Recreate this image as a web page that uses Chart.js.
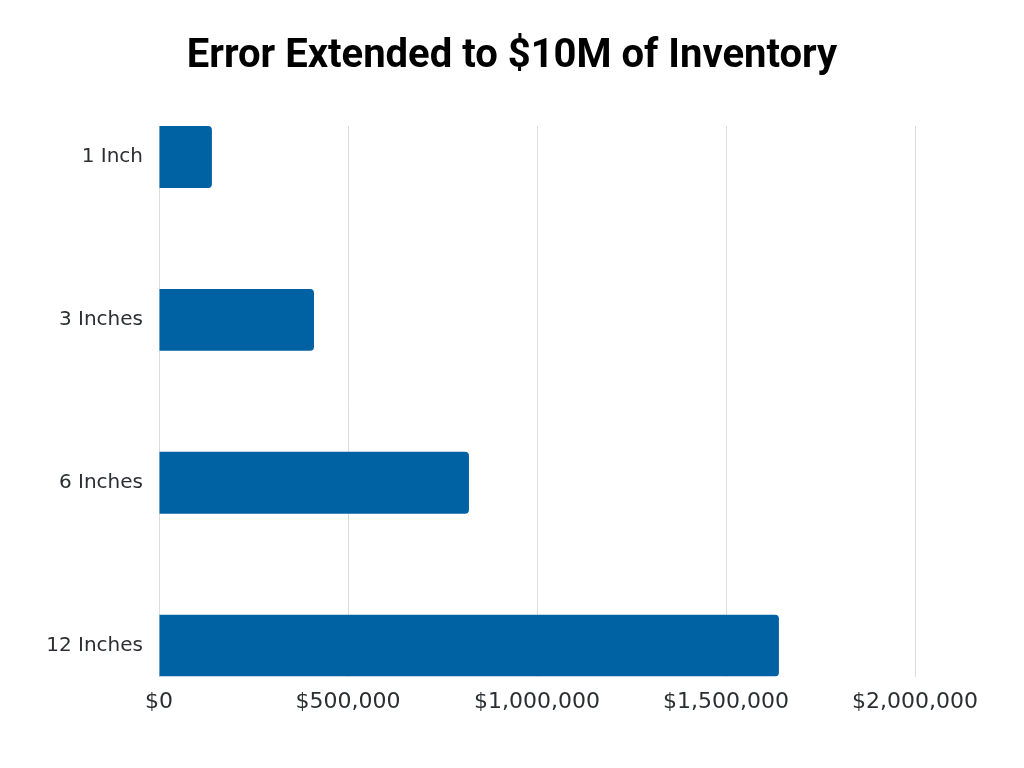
<!DOCTYPE html>
<html>
<head>
<meta charset="utf-8">
<script src="https://cdn.jsdelivr.net/npm/chart.js@4"></script>
<style>
  html, body { margin: 0; padding: 0; background: #fff; }
  #wrap { width: 1024px; height: 768px; }
</style>
</head>
<body>
<div id="wrap"><canvas id="myChart" width="1024" height="768"></canvas></div>
<script>
// --- Données ---
const categories = ['1 Inch', '3 Inches', '6 Inches', '12 Inches'];
const errorValues = [140000, 410000, 820000, 1640000];
const xTicks = [0, 500000, 1000000, 1500000, 2000000];

const FONT_FAMILY = '"DejaVu Sans", sans-serif';
const TEXT_COLOR = '#2b2f33';

// points {x: valeur, y: index de catégorie}
const points = errorValues.map((v, i) => ({ x: v, y: i }));

const ctx = document.getElementById('myChart').getContext('2d');
const chartInstance = new Chart(ctx, {
    type: 'bar',
    data: {
        datasets: [{
            label: 'Error',
            data: points,
            backgroundColor: '#0061a3',
            borderRadius: 4,
            categoryPercentage: 1,
            barPercentage: 0.38
        }]
    },
    options: {
        indexAxis: 'y',
        responsive: false,
        animation: false,
        layout: { padding: { top: 23, right: 0, bottom: 41, left: 0 } },
        plugins: {
            legend: { display: false },
            tooltip: { enabled: false },
            title: {
                display: true,
                text: 'Error Extended to $10M of Inventory',
                color: '#000',
                font: { family: 'Roboto, sans-serif', size: 40, weight: 'bold' },
                padding: { top: 10, bottom: 45 }
            }
        },
        scales: {
            x: {
                type: 'linear',
                min: 0,
                max: 2000000,
                afterBuildTicks: scale => { scale.ticks = xTicks.map(v => ({ value: v })); },
                // marge droite pour garder le titre centré sur la page
                afterFit: scale => { scale.paddingRight = 109; },
                grid: { color: '#dcdcdc', drawTicks: false },
                border: { display: false },
                ticks: {
                    color: TEXT_COLOR,
                    font: { family: FONT_FAMILY, size: 22 },
                    padding: 12,
                    callback: v => '$' + Number(v).toLocaleString('en-US')
                }
            },
            y: {
                type: 'linear',
                reverse: true,
                offset: false,
                bounds: 'data',
                min: -0.19,
                max: categories.length - 1 + 0.19,
                afterBuildTicks: scale => { scale.ticks = categories.map((c, i) => ({ value: i })); },
                afterFit: scale => { scale.width = 159; },
                grid: { display: false, drawTicks: false },
                border: { display: true, color: '#dcdcdc' },
                ticks: {
                    color: TEXT_COLOR,
                    font: { family: FONT_FAMILY, size: 20 },
                    padding: 16,
                    callback: v => categories[v]
                }
            }
        }
    }
});
</script>
</body>
</html>
